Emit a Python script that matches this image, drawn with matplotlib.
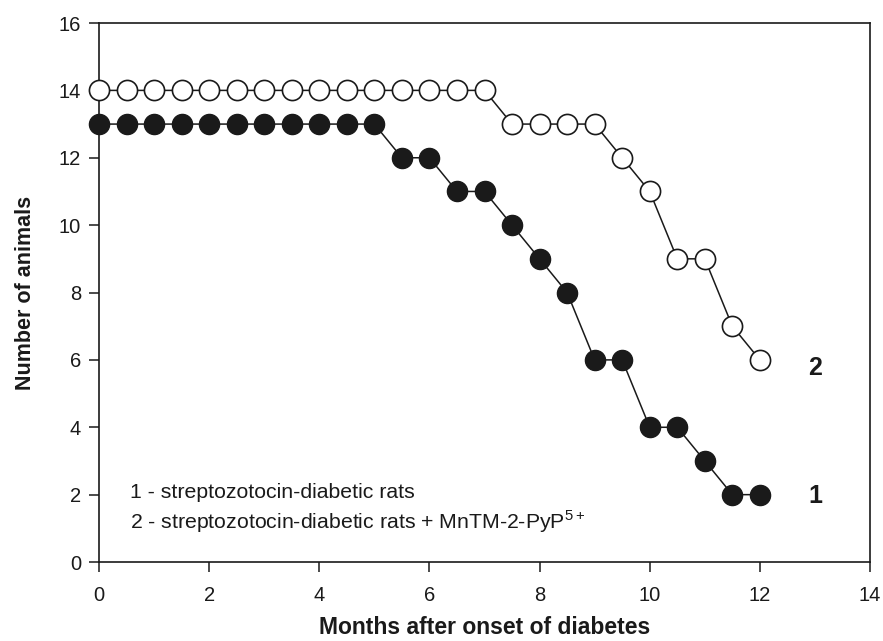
import matplotlib
matplotlib.use("Agg")
import matplotlib.pyplot as plt

plt.rcParams['font.family'] = ['Liberation Sans', 'DejaVu Sans']
plt.rcParams['mathtext.fontset'] = 'custom'
plt.rcParams['mathtext.rm'] = 'Liberation Sans'

months = [0, 0.5, 1, 1.5, 2, 2.5, 3, 3.5, 4, 4.5, 5, 5.5, 6, 6.5, 7, 7.5,
          8, 8.5, 9, 9.5, 10, 10.5, 11, 11.5, 12]
group1 = [13, 13, 13, 13, 13, 13, 13, 13, 13, 13, 13, 12, 12, 11, 11, 10,
          9, 8, 6, 6, 4, 4, 3, 2, 2]
group2 = [14, 14, 14, 14, 14, 14, 14, 14, 14, 14, 14, 14, 14, 14, 14, 13,
          13, 13, 13, 12, 11, 9, 9, 7, 6]
xticks = [0, 2, 4, 6, 8, 10, 12, 14]
yticks = [0, 2, 4, 6, 8, 10, 12, 14, 16]

fig = plt.figure(figsize=(8.83, 6.41), dpi=100)
ax = fig.add_axes([0.1121, 0.1232, 0.8732, 0.8409])

ax.plot(months, group2, '-o', color='#1a1a1a', lw=1.1, ms=14.5,
        markerfacecolor='white', markeredgecolor='#1a1a1a', markeredgewidth=1.2,
        clip_on=False, zorder=3)
ax.plot(months, group1, '-o', color='#1a1a1a', lw=1.1, ms=14.5,
        markerfacecolor='#1a1a1a', markeredgecolor='#1a1a1a',
        clip_on=False, zorder=4)

ax.set_xlim(0, 14)
ax.set_ylim(0, 16)
ax.set_xticks(xticks)
ax.set_yticks(yticks)
ax.tick_params(direction='out', length=7, width=1.1, labelsize=14.5, pad=6,
               colors='#1a1a1a')
ax.tick_params(axis='x', pad=10)
for s in ax.spines.values():
    s.set_linewidth(1.2)
    s.set_color('#1a1a1a')

ax.set_xlabel('Months after onset of diabetes', fontsize=16.5,
              fontweight='bold', labelpad=8, color='#1a1a1a')
ax.set_ylabel('Number of animals', fontsize=15.5, fontweight='bold',
              labelpad=16, color='#1a1a1a')

ax.text(0.56, 2.05, '1 - streptozotocin-diabetic rats', fontsize=15.3,
        va='center', ha='left', color='#1a1a1a')
ax.text(0.56, 1.2, '2 - streptozotocin-diabetic rats + MnTM-2-PyP$^{5+}$',
        fontsize=15.3, va='center', ha='left', color='#1a1a1a')

ax.text(13.0, 5.75, '2', fontsize=18, fontweight='bold', va='center',
        ha='center', color='#1a1a1a')
ax.text(13.0, 1.95, '1', fontsize=18, fontweight='bold', va='center',
        ha='center', color='#1a1a1a')

fig.savefig('out.png', dpi=100)
